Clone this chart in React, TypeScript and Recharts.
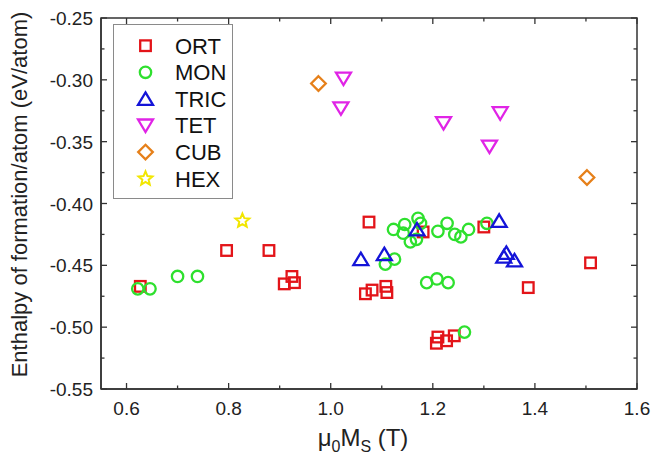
import React from "react";
import { ScatterChart, Scatter, XAxis, YAxis, Legend, ReferenceArea } from "recharts";

const FONT = '"Liberation Sans", Arial, sans-serif';
const W = 652;
const H = 457;
const MARGIN = { top: 18, right: 15, bottom: 0, left: 0 };
const Y_AXIS_W = 101;
const X_AXIS_H = 68;
const PLOT_TOP = MARGIN.top;
const PLOT_RIGHT = W - MARGIN.right;
const AXIS_COLOR = "#333";

const xTicks = [0.6, 0.7, 0.8, 0.9, 1.0, 1.1, 1.2, 1.3, 1.4, 1.5, 1.6];
const xTickLabels = ["0.6", "", "0.8", "", "1.0", "", "1.2", "", "1.4", "", "1.6"];
const yTicks = [-0.55, -0.525, -0.5, -0.475, -0.45, -0.425, -0.4, -0.375, -0.35, -0.325, -0.3, -0.275, -0.25];
const yTickLabels = ["-0.55", "", "-0.50", "", "-0.45", "", "-0.40", "", "-0.35", "", "-0.30", "", "-0.25"];

const ORT = [
  { x: 0.627, y: -0.467 }, { x: 0.796, y: -0.438 }, { x: 0.879, y: -0.438 },
  { x: 0.909, y: -0.465 }, { x: 0.924, y: -0.459 }, { x: 0.929, y: -0.464 },
  { x: 1.068, y: -0.473 }, { x: 1.081, y: -0.470 }, { x: 1.075, y: -0.415 },
  { x: 1.108, y: -0.467 }, { x: 1.110, y: -0.472 }, { x: 1.181, y: -0.423 },
  { x: 1.207, y: -0.513 }, { x: 1.210, y: -0.508 }, { x: 1.227, y: -0.511 },
  { x: 1.242, y: -0.507 }, { x: 1.300, y: -0.419 }, { x: 1.387, y: -0.468 },
  { x: 1.509, y: -0.448 },
];
const MON = [
  { x: 0.622, y: -0.469 }, { x: 0.646, y: -0.469 }, { x: 0.700, y: -0.459 },
  { x: 0.739, y: -0.459 }, { x: 1.107, y: -0.449 }, { x: 1.125, y: -0.445 },
  { x: 1.123, y: -0.421 }, { x: 1.142, y: -0.424 }, { x: 1.145, y: -0.417 },
  { x: 1.156, y: -0.431 }, { x: 1.168, y: -0.429 }, { x: 1.171, y: -0.412 },
  { x: 1.176, y: -0.416 }, { x: 1.188, y: -0.464 }, { x: 1.208, y: -0.461 },
  { x: 1.210, y: -0.4225 }, { x: 1.228, y: -0.416 }, { x: 1.230, y: -0.464 },
  { x: 1.243, y: -0.425 }, { x: 1.255, y: -0.427 }, { x: 1.270, y: -0.421 },
  { x: 1.306, y: -0.416 }, { x: 1.262, y: -0.504 },
];
const TRIC = [
  { x: 1.059, y: -0.445 }, { x: 1.105, y: -0.441 }, { x: 1.169, y: -0.421 },
  { x: 1.330, y: -0.414 }, { x: 1.339, y: -0.443 }, { x: 1.344, y: -0.440 },
  { x: 1.360, y: -0.446 },
];
const TET = [
  { x: 1.025, y: -0.299 }, { x: 1.020, y: -0.323 }, { x: 1.221, y: -0.335 },
  { x: 1.332, y: -0.327 }, { x: 1.311, y: -0.354 },
];
const CUB = [{ x: 0.976, y: -0.303 }, { x: 1.502, y: -0.379 }];
const HEX = [{ x: 0.827, y: -0.414 }];

const seriesNames = ["ORT", "MON", "TRIC", "TET", "CUB", "HEX"];
const seriesColors = ["#e31419", "#2ee02e", "#1414d8", "#e024e6", "#e6801a", "#f2e600"];
const seriesKinds = ["square", "circle", "up", "down", "diamond", "star"];
const seriesData = [ORT, MON, TRIC, TET, CUB, HEX];

function Marker({ kind, color, cx, cy }: { kind: string; color: string; cx: number; cy: number }) {
  const common = { fill: "none", stroke: color, strokeWidth: 2.3 };
  switch (kind) {
    case "square":
      return <rect x={cx - 5.3} y={cy - 5.3} width={10.6} height={10.6} {...common} />;
    case "circle":
      return <circle cx={cx} cy={cy} r={5.7} {...common} />;
    case "up":
      return <polygon points={`${cx},${cy - 6.5} ${cx + 7.5},${cy + 6} ${cx - 7.5},${cy + 6}`} {...common} />;
    case "down":
      return <polygon points={`${cx - 7.5},${cy - 6} ${cx + 7.5},${cy - 6} ${cx},${cy + 6.5}`} {...common} />;
    case "diamond":
      return <polygon points={`${cx},${cy - 7.3} ${cx + 7.3},${cy} ${cx},${cy + 7.3} ${cx - 7.3},${cy}`} {...common} />;
    case "star": {
      const pts: string[] = [];
      for (let i = 0; i < 10; i++) {
        const r = i % 2 === 0 ? 7.3 : 3.3;
        const a = -Math.PI / 2 + (i * Math.PI) / 5;
        pts.push(`${cx + r * Math.cos(a)},${cy + r * Math.sin(a)}`);
      }
      return <polygon points={pts.join(" ")} {...common} strokeWidth={2} />;
    }
    default:
      return null;
  }
}

function XTick(props: any) {
  const { x, y, index } = props;
  const label = xTickLabels[index] ?? "";
  const major = label !== "";
  const len = major ? 6 : 3.5;
  return (
    <g>
      <line x1={x} x2={x} y1={y} y2={y - len} stroke={AXIS_COLOR} strokeWidth={1.3} />
      <line x1={x} x2={x} y1={PLOT_TOP} y2={PLOT_TOP + len} stroke={AXIS_COLOR} strokeWidth={1.3} />
      {major && (
        <text x={x} y={y + 25.5} textAnchor="middle" fontSize={19} fontFamily={FONT} fill="#222">
          {label}
        </text>
      )}
    </g>
  );
}

function YTick(props: any) {
  const { x, y, index } = props;
  const label = yTickLabels[index] ?? "";
  const major = label !== "";
  const len = major ? 6 : 3.5;
  return (
    <g>
      <line x1={x} x2={x + len} y1={y} y2={y} stroke={AXIS_COLOR} strokeWidth={1.3} />
      <line x1={PLOT_RIGHT - len} x2={PLOT_RIGHT} y1={y} y2={y} stroke={AXIS_COLOR} strokeWidth={1.3} />
      {major && (
        <text x={x - 8} y={y + 7} textAnchor="end" fontSize={19} fontFamily={FONT} fill="#222">
          {label}
        </text>
      )}
    </g>
  );
}

function XTitle(props: any) {
  const vb = props.viewBox || { x: 0, y: 0, width: 0 };
  const cx = vb.x + vb.width / 2 - 6;
  return (
    <text x={cx} y={vb.y + 57} textAnchor="middle" fontSize={24} fontFamily={FONT} fill="#222">
      <tspan>μ</tspan>
      <tspan fontSize={16} dy={6}>0</tspan>
      <tspan dy={-6}>M</tspan>
      <tspan fontSize={16} dy={6}>S</tspan>
      <tspan dy={-6}> (T)</tspan>
    </text>
  );
}

function YTitle(props: any) {
  const vb = props.viewBox || { x: 0, y: 0, height: 0 };
  const cx = vb.x + 19;
  const cy = vb.y + vb.height / 2 - 9;
  return (
    <text
      x={cx}
      y={cy}
      transform={`rotate(-90, ${cx}, ${cy})`}
      textAnchor="middle"
      dominantBaseline="central"
      fontSize={22}
      fontFamily={FONT}
      fill="#222"
    >
      Enthalpy of formation/atom (eV/atom)
    </text>
  );
}

function LegendBox() {
  return (
    <svg width={121} height={176} style={{ display: "block" }}>
      <rect x={0.5} y={0.5} width={119} height={174} fill="#fff" stroke="#8a8a8a" strokeWidth={1} />
      {seriesNames.map((name, i) => {
        const cy = 21.7 + i * 26.6;
        return (
          <g key={name}>
            <Marker kind={seriesKinds[i]} color={seriesColors[i]} cx={32.5} cy={cy} />
            <text x={62} y={cy + 7.8} fontSize={22} fontFamily={FONT} fill="#111">
              {name}
            </text>
          </g>
        );
      })}
    </svg>
  );
}

export default function App() {
  return (
    <div style={{ position: "absolute", left: 0, top: 0, width: W, height: H, background: "#fff" }}>
      <ScatterChart width={W} height={H} margin={MARGIN}>
        <ReferenceArea
          x1={0.55}
          x2={1.6}
          y1={-0.55}
          y2={-0.25}
          fill="none"
          fillOpacity={0}
          stroke={AXIS_COLOR}
          strokeWidth={1.5}
          ifOverflow="visible"
        />
        <XAxis
          type="number"
          dataKey="x"
          domain={[0.55, 1.6]}
          ticks={xTicks}
          interval={0}
          allowDataOverflow
          height={X_AXIS_H}
          tickSize={0}
          tickMargin={0}
          axisLine={{ stroke: AXIS_COLOR, strokeWidth: 1.5 }}
          tick={<XTick />}
          label={{ content: <XTitle /> }}
        />
        <YAxis
          type="number"
          dataKey="y"
          domain={[-0.55, -0.25]}
          ticks={yTicks}
          interval={0}
          allowDataOverflow
          width={Y_AXIS_W}
          tickSize={0}
          tickMargin={0}
          axisLine={{ stroke: AXIS_COLOR, strokeWidth: 1.5 }}
          tick={<YTick />}
          label={{ content: <YTitle /> }}
        />
        {seriesData.map((data, i) => (
          <Scatter
            key={seriesNames[i]}
            name={seriesNames[i]}
            data={data}
            isAnimationActive={false}
            shape={(p: any) => <Marker kind={seriesKinds[i]} color={seriesColors[i]} cx={p.cx} cy={p.cy} />}
          />
        ))}
        <Legend
          layout="vertical"
          align="center"
          verticalAlign="middle"
          content={() => <LegendBox />}
          wrapperStyle={{ left: 113, top: 24, width: 121, height: 176, position: "absolute" }}
        />
      </ScatterChart>
    </div>
  );
}
